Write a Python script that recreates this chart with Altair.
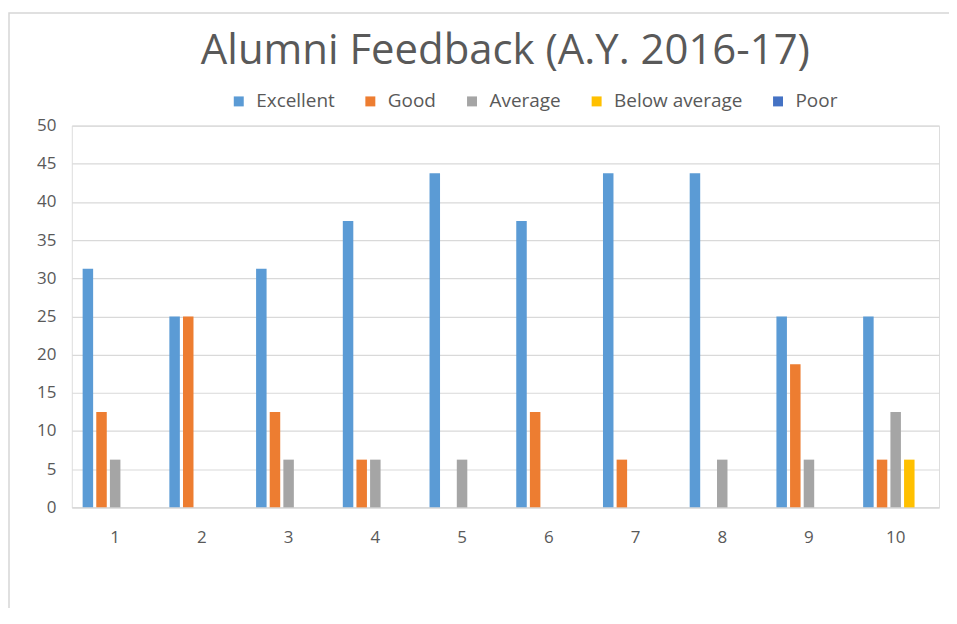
import altair as alt
import pandas as pd

responses = [str(i) for i in range(1, 11)]
series = ["Excellent", "Good", "Average", "Below average", "Poor"]
excellent = [31.25, 25, 31.25, 37.5, 43.75, 37.5, 43.75, 43.75, 25, 25]
good = [12.5, 25, 12.5, 6.25, 0, 12.5, 6.25, 0, 18.75, 6.25]
average = [6.25, 0, 6.25, 6.25, 6.25, 0, 0, 6.25, 6.25, 12.5]
below_average = [0, 0, 0, 0, 0, 0, 0, 0, 0, 6.25]
poor = [0, 0, 0, 0, 0, 0, 0, 0, 0, 0]
colors = ["#5B9BD5", "#ED7D31", "#A5A5A5", "#FFC000", "#4472C4"]

values = [excellent, good, average, below_average, poor]
rows = []
for s, vals in zip(series, values):
    for r, v in zip(responses, vals):
        rows.append({"Response": r, "Series": s, "Value": v})
df = pd.DataFrame(rows)

FONT = "Open Sans"
TXT = "#595959"
GRID = "#D9D9D9"

bars = alt.Chart(df).mark_bar().encode(
    x=alt.X("Response:N", sort=responses,
            scale=alt.Scale(paddingInner=0.25, paddingOuter=0.125),
            axis=alt.Axis(title=None, labelAngle=0, labelPadding=22, ticks=False,
                          domainColor=GRID, domainWidth=1.5, labelColor=TXT,
                          labelFontSize=17, labelFont=FONT, grid=False)),
    xOffset=alt.XOffset("Series:N", sort=series, scale=alt.Scale(paddingInner=0.23)),
    y=alt.Y("Value:Q", scale=alt.Scale(domain=[0, 50], nice=False),
            axis=alt.Axis(values=list(range(0, 51, 5)), title=None, ticks=False,
                          domain=False, gridColor=GRID, gridWidth=1.2, labelPadding=16,
                          labelColor=TXT, labelFontSize=17, labelFont=FONT)),
    color=alt.Color("Series:N", sort=series,
                    scale=alt.Scale(domain=series, range=colors),
                    legend=alt.Legend(title=None, orient="none", legendX=158, legendY=-34,
                                      direction="horizontal", symbolType="square",
                                      symbolSize=100, symbolStrokeWidth=0,
                                      labelFontSize=19, labelFont=FONT, labelColor=TXT,
                                      labelOffset=8, columnPadding=26)),
)

frame = alt.Chart(pd.DataFrame({"a": [0]})).mark_rect(
    fill="transparent", stroke="#D6D6D6", strokeWidth=1.5
).encode(
    x=alt.value(-63), x2=alt.value(881), y=alt.value(-113), y2=alt.value(600)
)

chart = alt.layer(frame, bars).properties(
    width=870, height=383,
    title=alt.TitleParams("Alumni Feedback (A.Y. 2016-17)", font=FONT, fontSize=42,
                          fontWeight="normal", color=TXT, anchor="middle", offset=0,
                          dy=61),
    autosize=alt.AutoSizeParams(type="none"),
    padding={"left": 64, "top": 117, "right": 10, "bottom": 100},
).configure_view(stroke=None).configure(background="white")

chart.save("out.html", embed_options={"renderer": "svg", "actions": False})
